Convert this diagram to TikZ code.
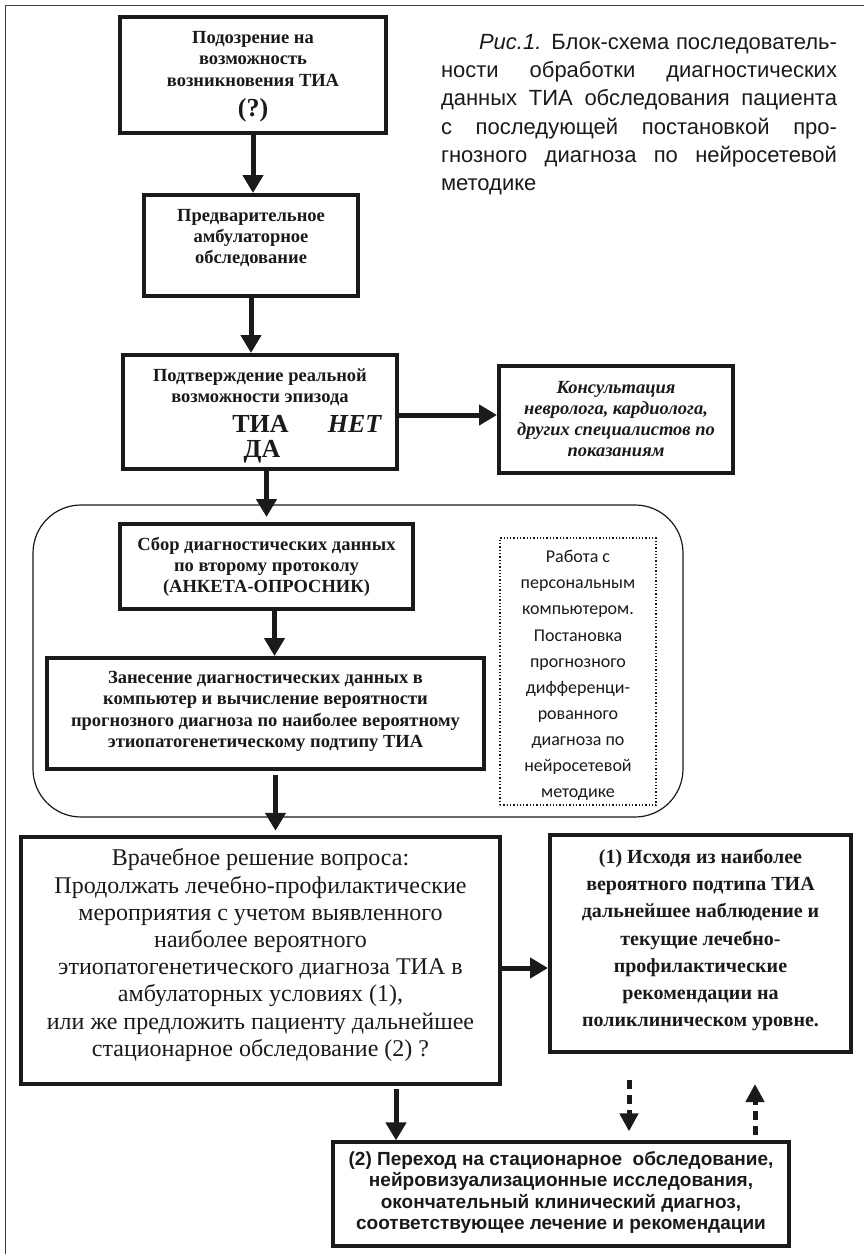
\documentclass[tikz,border=0pt]{standalone}
\usepackage{fontspec}
\setmainfont{Liberation Serif}
\newfontfamily\sansb{Liberation Sans}
\newfontfamily\capfont{Liberation Sans}
\newfontfamily\carlito{Carlito}
\usetikzlibrary{arrows.meta,calc}
\definecolor{ink}{HTML}{1A1A1A}
\tikzset{
  fbox/.style={draw=ink, line width=4pt, inner sep=0pt},
  txt/.style={align=center, inner sep=0pt, text=ink, font=\fontsize{18.5}{21.3}\selectfont\bfseries},
  bigtxt/.style={inner sep=0pt, text=ink, font=\fontsize{26}{28}\selectfont\bfseries},
  arr/.style={draw=ink, line width=5pt, -{Triangle[width=20pt,length=18pt]}},
  darr/.style={draw=ink, line width=5pt, dash pattern=on 9pt off 6pt, -{Triangle[width=18pt,length=18pt]}},
}
\begin{document}
\begin{tikzpicture}[x=1pt,y=-1pt]
\path[use as bounding box] (0,0) rectangle (864,1254);
\fill[white] (0,0) rectangle (864,1254);
\draw[line width=1.6pt, black!75] (5.5,1254) -- (5.5,5.5) -- (864,5.5);

% caption
\node[inner sep=0pt, align=left, text=ink, font=\capfont\fontsize{22}{28.3}\selectfont] (cap) at (639,114.5) {%
\makebox[396pt][s]{\hspace*{38pt}\textit{Рис.1.} Блок-схема последователь-}\\
\makebox[396pt][s]{ности обработки диагностических}\\
\makebox[396pt][s]{данных ТИА обследования пациента}\\
\makebox[396pt][s]{с последующей постановкой про-}\\
\makebox[396pt][s]{гнозного диагноза по нейросетевой}\\
\makebox[396pt][l]{методике}};

% box 1
\node[fbox, minimum width=266pt, minimum height=116pt] (b1) at (253,75) {};
\node[txt] (t1) at (253,59) {Подозрение на\\возможность\\возникновения ТИА};
\node[bigtxt] (q1) at (253,110) {(?)};

% box 2
\node[fbox, minimum width=214pt, minimum height=101pt] (b2) at (251,245.5) {};
\node[txt] (t2) at (251,238) {Предварительное\\амбулаторное\\обследование};

% box 3
\node[fbox, minimum width=274pt, minimum height=114pt] (b3) at (260,412) {};
\node[txt] (t3) at (260,387) {Подтверждение реальной\\возможности эпизода};
\node[bigtxt] (tia) at (260.5,424) {ТИА};
\node[bigtxt, font=\fontsize{26}{28}\selectfont\bfseries\itshape] (net) at (354.5,424) {НЕТ};
\node[bigtxt] (da) at (262,452) {ДА};

% box 4
\node[fbox, minimum width=234pt, minimum height=107pt] (b4) at (616,419.5) {};
\node[txt, font=\fontsize{18.5}{21.3}\selectfont\bfseries\itshape] (t4) at (616,419) {Консультация\\невролога, кардиолога,\\других специалистов по\\показаниям};

% region
\node[draw=ink, line width=1.2pt, rounded corners=48pt, minimum width=650pt, minimum height=312pt, inner sep=0pt] (reg) at (358,661) {};

% box 5
\node[fbox, minimum width=293pt, minimum height=85pt] (b5) at (266.5,566.5) {};
\node[txt] (t5) at (266.5,567) {Сбор диагностических данных\\по второму протоколу\\(АНКЕТА-ОПРОСНИК)};

% dotted box
\node[draw=ink, dotted, line width=1.3pt, minimum width=156pt, minimum height=267pt, inner sep=0pt] (db) at (578,671.5) {};
\node[align=center, inner sep=0pt, text=ink, font=\carlito\fontsize{18}{26.1}\selectfont] (tdb) at (578,675.5) {Работа с\\персональным\\компьютером.\\Постановка\\прогнозного\\дифференци-\\рованного\\диагноза по\\нейросетевой\\методике};

% box 6
\node[fbox, minimum width=437pt, minimum height=111pt] (b6) at (265.5,713.5) {};
\node[txt] (t6) at (265.5,711.5) {Занесение диагностических данных в\\компьютер и вычисление вероятности\\прогнозного диагноза по наиболее вероятному\\этиопатогенетическому подтипу ТИА};

% box 7
\node[fbox, line width=4.5pt, minimum width=479pt, minimum height=247pt] (b7) at (260.5,960.5) {};
\node[txt, font=\fontsize{24}{27.2}\selectfont] (t7) at (260.5,955) {Врачебное решение вопроса:\\Продолжать лечебно-профилактические\\мероприятия с учетом выявленного\\наиболее вероятного\\этиопатогенетического диагноза ТИА в\\амбулаторных условиях (1),\\или же предложить пациенту дальнейшее\\стационарное обследование (2) ?};

% box 8
\node[fbox, minimum width=301pt, minimum height=217pt] (b8) at (700.5,943.5) {};
\node[txt, font=\fontsize{20}{27.3}\selectfont\bfseries] (t8) at (700.5,940) {(1) Исходя из наиболее\\вероятного подтипа ТИА\\дальнейшее наблюдение и\\текущие лечебно-\\профилактические\\рекомендации на\\поликлиническом уровне.};

% box 9
\node[fbox, line width=3.2pt, minimum width=456pt, minimum height=104pt] (b9) at (561,1194) {};
\node[txt, font=\sansb\fontsize{19}{21.5}\selectfont\bfseries] (t9) at (561,1192.5) {(2) Переход на стационарное \ обследование,\\нейровизуализационные исследования,\\окончательный клинический диагноз,\\соответствующее лечение и рекомендации};

% connectors
\draw[arr] (b1.south) -- (b1.south |- b2.north);
\draw[arr] (b2.south) -- (b2.south |- b3.north);
\draw[arr] ([yshift=-3pt]b3.east) -- ([yshift=-3pt]b3.east -| b4.west);
\draw[arr, shorten >=5pt] (b3.south -| b5.north) -- (b5.north);
\draw[arr, line width=4.5pt] ([xshift=8pt]b5.south) -- ([xshift=8pt]b5.south |- b6.north);
\draw[arr, line width=4.5pt, shorten <=4pt, shorten >=4pt] ([xshift=10pt]b6.south) -- ([xshift=10pt]b6.south |- b7.north);
\draw[arr] ([yshift=-7.5pt]b7.east) -- ([yshift=-7.5pt]b7.east -| b8.west);
\draw[arr, shorten <=3pt] ([xshift=135.5pt]b7.south) -- ([xshift=135.5pt]b7.south |- b9.north);
\draw[darr, shorten <=26pt, shorten >=9pt] ([xshift=-71.5pt]b8.south) -- ([xshift=-71.5pt]b8.south |- b9.north);
\draw[darr, shorten <=5pt, shorten >=30pt] ([xshift=194pt]b9.north) -- ([xshift=194pt]b9.north |- b8.south);
\end{tikzpicture}
\end{document}
